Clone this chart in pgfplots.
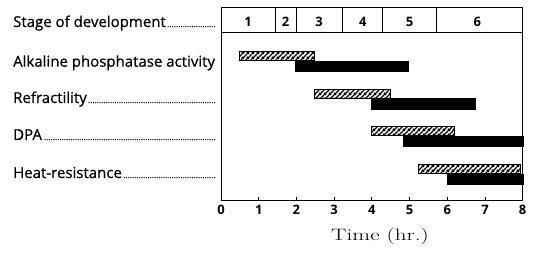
\documentclass[border=0pt]{standalone}
\usepackage{fontspec}
\usepackage{pgfplots}
\pgfplotsset{compat=1.18}
\usetikzlibrary{patterns.meta}
\setmainfont{Latin Modern Roman}
\newfontfamily\gill[FakeBold=0.6]{Open Sans}
\newfontfamily\gillb{Open Sans Bold}
\tikzdeclarepattern{
  name=myhatch,
  type=uncolored,
  bounding box={(0pt,0pt) and (4.5pt,4.5pt)},
  tile size={(4.5pt,4.5pt)},
  code={
    \draw[line width=1.3pt] (-1pt,-1pt) -- (5.5pt,5.5pt);
    \draw[line width=1.3pt] (-1.5pt,3pt) -- (1.5pt,6pt);
    \draw[line width=1.3pt] (3pt,-1.5pt) -- (6pt,1.5pt);
  }
}
\newcommand\dleader{\leaders\hbox to 2.2pt{\hss\scalebox{0.5}{.}\hss}\hfill}
\newcommand\lab[1]{\makebox[203pt][l]{#1\dleader}}
\begin{document}
\begin{tikzpicture}
\begin{axis}[
  at={(0pt,0pt)}, anchor=origin,
  scale only axis,
  width=301.7pt, height=193pt,
  xmin=0, xmax=8, ymin=60, ymax=253,
  axis line style={line width=1pt},
  xtick={0,1,...,8},
  ytick=\empty,
  xtick pos=bottom,
  tick align=inside,
  major tick length=3.5pt,
  tick style={line width=0.8pt, black},
  /pgf/number format/assume math mode=true,
  xticklabel style={font=\gillb\fontsize{13}{15}\selectfont, yshift=-1pt},
  clip=false,
]
% stage row
\addplot[black, line width=0.9pt] coordinates {(0,229) (8,229)};
\addplot[black, line width=0.8pt] coordinates {(1.43,229) (1.43,253)};
\addplot[black, line width=0.8pt] coordinates {(2.0,229) (2.0,253)};
\addplot[black, line width=0.8pt] coordinates {(3.23,229) (3.23,253)};
\addplot[black, line width=0.8pt] coordinates {(4.29,229) (4.29,253)};
\addplot[black, line width=0.8pt] coordinates {(5.72,229) (5.72,253)};
\node[font=\gillb\fontsize{13}{15}\selectfont, anchor=base] at (axis cs:0.715,234.3) {1};
\node[font=\gillb\fontsize{13}{15}\selectfont, anchor=base] at (axis cs:1.715,234.3) {2};
\node[font=\gillb\fontsize{13}{15}\selectfont, anchor=base] at (axis cs:2.6,234.3) {3};
\node[font=\gillb\fontsize{13}{15}\selectfont, anchor=base] at (axis cs:3.76,234.3) {4};
\node[font=\gillb\fontsize{13}{15}\selectfont, anchor=base] at (axis cs:5.0,234.3) {5};
\node[font=\gillb\fontsize{13}{15}\selectfont, anchor=base] at (axis cs:6.8,234.3) {6};
% Alkaline phosphatase
\addplot[draw=black, line width=1pt, pattern=myhatch] coordinates {(0.48,209) (2.49,209) (2.49,200) (0.48,200)} -- cycle;
\addplot[draw=black, fill=black] coordinates {(1.96,200) (4.96,200) (4.96,189.5) (1.96,189.5)} -- cycle;
% Refractility
\addplot[draw=black, line width=1pt, pattern=myhatch] coordinates {(2.49,171.7) (4.5,171.7) (4.5,162.5) (2.49,162.5)} -- cycle;
\addplot[draw=black, fill=black] coordinates {(3.97,162.5) (6.74,162.5) (6.74,152) (3.97,152)} -- cycle;
% DPA
\addplot[draw=black, line width=1pt, pattern=myhatch] coordinates {(4.0,134) (6.2,134) (6.2,125) (4.0,125)} -- cycle;
\addplot[draw=black, fill=black] coordinates {(4.83,125) (8.0,125) (8.0,114.5) (4.83,114.5)} -- cycle;
% Heat-resistance
\addplot[draw=black, line width=1pt, pattern=myhatch] coordinates {(5.25,96) (7.95,96) (7.95,87) (5.25,87)} -- cycle;
\addplot[draw=black, fill=black] coordinates {(5.99,87) (8.0,87) (8.0,77) (5.99,77)} -- cycle;
\end{axis}
\begin{scope}[every node/.style={font=\gill\fontsize{15}{17}\selectfont, anchor=base west, inner sep=0pt}]
\node at (-208pt,174pt) {\lab{Stage of development}};
\node at (-208pt,134.3pt) {Alkaline phosphatase activity};
\node at (-208pt,98pt) {\lab{Refractility}};
\node at (-208pt,61pt) {\lab{DPA}};
\node at (-208pt,23pt) {\lab{Heat-resistance}};
\end{scope}
\node[font=\fontsize{16.5}{20}\selectfont, anchor=base, inner sep=0pt] at (159pt,-40pt) {\scalebox{1.4}[1]{Time (hr.)}};
\pgfresetboundingbox
\useasboundingbox (-221pt,-60pt) rectangle (314pt,201pt);
\end{tikzpicture}
\end{document}
